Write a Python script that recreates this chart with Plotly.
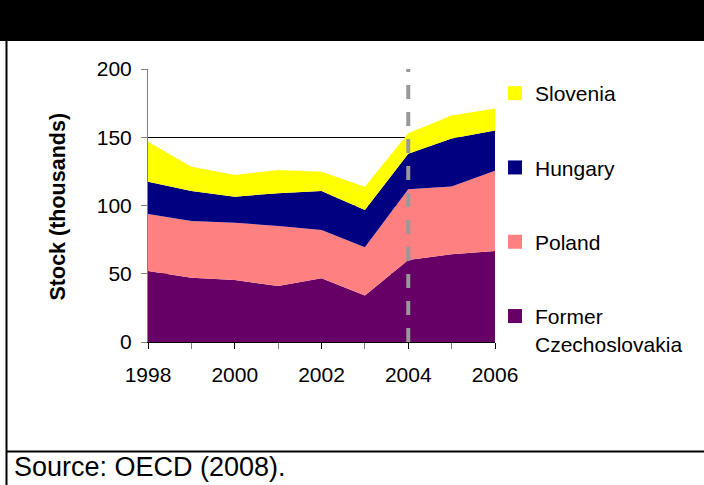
import plotly.graph_objects as go

# Stock of migrants by country of origin, thousands
years = [1998, 1999, 2000, 2001, 2002, 2003, 2004, 2005, 2006]
former_czechoslovakia = [52.0, 47.0, 45.4, 41.0, 46.7, 34.0, 60.0, 64.2, 66.7]
poland = [41.8, 41.6, 42.0, 44.0, 35.3, 35.4, 51.9, 49.8, 58.8]
hungary = [23.6, 22.0, 19.1, 24.0, 28.6, 27.3, 26.1, 35.0, 29.5]
slovenia = [29.3, 17.8, 15.8, 17.0, 14.2, 17.1, 15.0, 17.0, 16.0]

series_names = ["Former<br>Czechoslovakia", "Poland", "Hungary", "Slovenia"]
series_values = [former_czechoslovakia, poland, hungary, slovenia]
series_colors = ["#660066", "#FF8080", "#000080", "#FFFF00"]

y_ticks = [0, 50, 100, 150, 200]
marker_year = 2004

W, H = 704, 485
FONT = "Arial, Liberation Sans, sans-serif"


def px(x):
    return x / W


def py(y):
    return 1 - y / H


fig = go.Figure()

for name, vals, col in zip(series_names, series_values, series_colors):
    fig.add_trace(go.Scatter(
        x=years, y=vals, stackgroup="stock", mode="lines",
        line=dict(width=0, color=col), fillcolor=col,
        name=name, showlegend=False, hoverinfo="x+y+name",
    ))

# square legend keys, top of the stack listed first
for i, (name, col) in enumerate(zip(series_names[::-1], series_colors[::-1])):
    fig.add_trace(go.Scatter(
        x=[None], y=[None], mode="markers",
        marker=dict(symbol="square", size=14, color=col),
        name=name, legendgroup=f"g{i}", showlegend=True,
    ))

shapes = [
    # black header band
    dict(type="rect", xref="paper", yref="paper", x0=0, x1=1,
         y0=py(41), y1=1, fillcolor="black", line=dict(width=0), layer="above"),
    # left frame line
    dict(type="line", xref="paper", yref="paper", x0=px(6.5), x1=px(6.5),
         y0=py(41), y1=0, line=dict(color="black", width=2)),
    # separator above the source line
    dict(type="line", xref="paper", yref="paper", x0=px(6), x1=1,
         y0=py(451.5), y1=py(451.5), line=dict(color="black", width=2)),
    # 2004 marker
    dict(type="line", xref="x", yref="y", x0=marker_year, x1=marker_year,
         y0=0, y1=200, line=dict(color="#999999", width=4, dash="14px,13px"),
         layer="above"),
]

annotations = [
    dict(text="Source: OECD (2008).", xref="paper", yref="paper",
         x=px(12), y=py(467), xanchor="left", yanchor="middle",
         showarrow=False, font=dict(family=FONT, size=27, color="black")),
    dict(text="<b>Stock (thousands)</b>", xref="paper", yref="paper",
         x=px(57), y=py(206.5), xanchor="center", yanchor="middle",
         textangle=-90, showarrow=False,
         font=dict(family=FONT, size=21.5, color="black")),
]

fig.update_layout(
    width=W, height=H, autosize=False,
    margin=dict(l=0, r=0, t=0, b=0),
    paper_bgcolor="white", plot_bgcolor="white",
    font=dict(family=FONT, size=21, color="black"),
    showlegend=True,
    legend=dict(
        x=px(495), y=py(73), xanchor="left", yanchor="top",
        traceorder="grouped", tracegroupgap=44,
        valign="top", bgcolor="rgba(0,0,0,0)",
        font=dict(family=FONT, size=21, color="black"),
    ),
    xaxis=dict(
        domain=[px(148), px(495)], range=[1998, 2006],
        tick0=1998, dtick=2, ticks="outside", ticklen=6, tickcolor="black",
        ticklabelstandoff=8,
        showline=True, linecolor="black", linewidth=1,
        showgrid=False, zeroline=False, automargin=False,
        minor=dict(dtick=1, ticks="outside", ticklen=6, tickcolor="#808080"),
        tickfont=dict(family=FONT, size=21, color="black"),
    ),
    yaxis=dict(
        domain=[py(342), py(69)], range=[0, 200],
        tickvals=y_ticks, ticks="outside", ticklen=6, tickcolor="#808080",
        ticklabelstandoff=5,
        showline=True, linecolor="#808080", linewidth=1,
        showgrid=True, gridcolor="black", gridwidth=1,
        zeroline=False, automargin=False,
        tickfont=dict(family=FONT, size=21, color="black"),
    ),
    shapes=shapes,
    annotations=annotations,
)

fig.write_html("out.html")
